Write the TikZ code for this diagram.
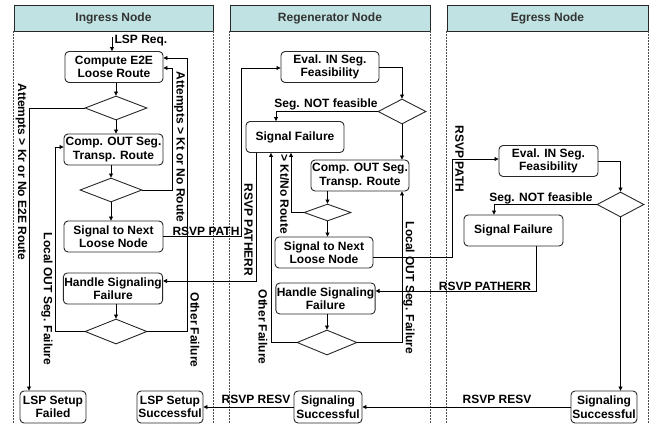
\documentclass[tikz,border=0pt]{standalone}
\usepackage{fontspec}
\setmainfont{Liberation Sans}
\usetikzlibrary{arrows.meta,shapes.geometric}
\definecolor{hdrfill}{RGB}{192,226,226}
\definecolor{edge}{RGB}{40,40,40}
\begin{document}
\begin{tikzpicture}[x=1pt,y=-1pt,
  txt/.style={font=\bfseries\fontsize{12}{13.5}\selectfont},
  box/.style={txt,draw=edge,line width=0.9pt,rounded corners=4pt,align=center,inner sep=1pt,minimum width=98pt,minimum height=31pt},
  small/.style={box,minimum width=66pt,minimum height=32pt},
  dia/.style={draw=edge,line width=0.9pt,shape=diamond,inner sep=0pt},
  lbl/.style={txt,inner sep=0pt},
  vl/.style={lbl,rotate=-90},
  arr/.style={draw=black,line width=0.8pt,-{Triangle[length=4pt,width=4pt]}},
  hdr/.style={draw=edge,line width=0.8pt,fill=hdrfill,minimum height=26pt,inner sep=0pt,font=\bfseries\fontsize{12}{13.5}\selectfont,text=black!80},
  lane/.style={draw=black!70,line width=0.6pt,dash pattern=on 1.5pt off 1.5pt}]
\useasboundingbox (0,0) rectangle (654,424);
\coordinate (bot) at (0,424);
% headers and lanes
\node[hdr,minimum width=199pt] (h1) at (113.5,18) {Ingress Node};
\node[hdr,minimum width=200pt] (h2) at (330,18) {Regenerator Node};
\node[hdr,minimum width=201pt] (h3) at (547.5,18) {Egress Node};
\foreach \h in {h1,h2,h3}{
  \draw[lane] (\h.south west) -- (\h.south west |- bot);
  \draw[lane] (\h.south east) -- (\h.south east |- bot);
}
% ingress nodes
\node[box] (e2e) at (114,67) {Compute E2E\\Loose Route};
\node[dia,minimum width=62pt,minimum height=24pt] (d1) at (116,108) {};
\node[box,minimum width=99pt] (out) at (113.5,149.5) {Comp. OUT Seg.\\Transp. Route};
\node[dia,minimum width=62pt,minimum height=24pt] (d2) at (111,190) {};
\node[box,minimum width=99pt] (sig) at (113.5,236.5) {Signal to Next\\Loose Node};
\node[box,minimum width=99pt] (hsf) at (113,288.5) {Handle Signaling\\Failure};
\node[dia,minimum width=62pt,minimum height=25pt] (d3) at (116,331.5) {};
\node[small] (fail) at (53,407) {LSP Setup\\Failed};
\node[small] (succ) at (170,407) {LSP Setup\\Successful};
% regenerator nodes
\node[box] (reval) at (330,67) {Eval. IN Seg.\\Feasibility};
\node[dia,minimum width=48pt,minimum height=25pt] (rd1) at (402,111.5) {};
\node[box] (rsf) at (295,137) {Signal Failure};
\node[box] (rout) at (360,175.5) {Comp. OUT Seg.\\Transp. Route};
\node[dia,minimum width=47pt,minimum height=17pt] (rd2) at (327.5,212.5) {};
\node[box] (rsig) at (324,252.5) {Signal to Next\\Loose Node};
\node[box,minimum width=99pt] (rhsf) at (325.5,298.5) {Handle Signaling\\Failure};
\node[dia,minimum width=60pt,minimum height=25pt] (rd3) at (327,342.5) {};
\node[small,minimum width=68pt] (rss) at (328,407) {Signaling\\Successful};
% egress nodes
\node[box,minimum width=99pt] (eeval) at (548.5,161) {Eval. IN Seg.\\Feasibility};
\node[dia,minimum width=47pt,minimum height=25pt] (ed1) at (620.5,204.5) {};
\node[box,minimum width=99pt] (esf) at (513.5,230.5) {Signal Failure};
\node[small] (ess) at (604,407) {Signaling\\Successful};
% bend coordinates
\coordinate (req) at (112,37);
\coordinate (k1) at (29,108);
\coordinate (k2) at (172,190);
\coordinate (k3) at (172,68);
\coordinate (k4) at (187,331.5);
\coordinate (k5) at (187,58);
\coordinate (k6) at (55,331.5);
\coordinate (k7) at (55,147);
\coordinate (k8) at (241,236.5);
\coordinate (k9) at (241,68);
\coordinate (k10) at (402,67);
\coordinate (k11) at (276,111.5);
\coordinate (k12) at (291,212.5);
\coordinate (k13) at (452,257);
\coordinate (k14) at (452,159);
\coordinate (k15) at (256,281);
\coordinate (k16) at (271,342.5);
\coordinate (k17) at (402,342.5);
\coordinate (k18) at (620.5,161);
\coordinate (k19) at (494,204.5);
\coordinate (k20) at (536,291);
% ingress connectors
\draw[arr] (req) -- (req |- e2e.north);
\draw[arr] (e2e.south -| d1) -- (d1.north);
\draw[arr] (d1.south) -- (out.north -| d1);
\draw[arr] (d1.west) -- (k1) -- (k1 |- fail.north);
\draw[arr] (out.south -| d2) -- (d2.north);
\draw[arr] (d2.south) -- (d2.south |- sig.north);
\draw[arr] (d2.east) -- (k2) -- (k3) -- (k3 -| e2e.east);
\draw[arr] (hsf.south -| d3) -- (d3.north);
\draw[arr] (d3.east) -- (k4) -- (k5) -- (k5 -| e2e.east);
\draw[arr] (d3.west) -- (k6) -- (k7) -- (k7 -| out.west);
\draw[arr] (sig.east) -- (k8) -- (k9) -- (k9 -| reval.west);
% regenerator connectors
\draw[arr] (reval.east) -- (k10) -- (rd1.north);
\draw[arr] (rd1.west) -- (k11) -- (k11 |- rsf.north);
\draw[arr] (rd1.south) -- (rd1.south |- rout.north);
\draw[arr] (rout.south -| rd2) -- (rd2.north);
\draw[arr] (rd2.west) -- (k12) -- (k12 |- rsf.south);
\draw[arr] (rd2.south) -- (rd2.south |- rsig.north);
\draw[arr] (rsig.east |- k13) -- (k13) -- (k14) -- (k14 -| eeval.west);
\draw[arr] (k15 |- rsf.south) -- (k15) -- (k15 -| hsf.east);
\draw[arr] (rhsf.south -| rd3) -- (rd3.north);
\draw[arr] (rd3.west) -- (k16) -- (k16 |- rsf.south);
\draw[arr] (rd3.east) -- (k17) -- (k17 |- rout.south);
\draw[arr] (rss.west) -- (rss.west -| succ.east);
% egress connectors
\draw[arr] (eeval.east) -- (k18) -- (ed1.north);
\draw[arr] (ed1.west) -- (k19) -- (k19 |- esf.north);
\draw[arr] (ed1.south) -- (ed1.south |- ess.north);
\draw[arr] (k20 |- esf.south) -- (k20) -- (k20 -| rhsf.east);
\draw[arr] (ess.west) -- (ess.west -| rss.east);
% labels
\node[lbl] (lreq) at (141,41) {LSP Req.};
\node[vl] (l1) at (21,172) {Attempts > Kr or No E2E Route};
\node[vl] (l2) at (179.5,147) {Attempts > Kt or No Route};
\node[vl] (l3) at (47,299) {Local OUT Seg. Failure};
\node[vl] (l4) at (195,330) {Other Failure};
\node[lbl] (l5) at (206,231) {RSVP PATH};
\node[vl] (l6) at (248.5,230) {RSVP PATHERR};
\node[lbl] (l7) at (326,104) {Seg. NOT feasible};
\node[vl] (l8) at (284.5,194) {> Kt/No Route};
\node[vl] (l9) at (263,327) {Other Failure};
\node[vl] (l10) at (409,288) {Local OUT Seg. Failure};
\node[vl] (l11) at (459.5,159) {RSVP PATH};
\node[lbl] (l12) at (541,198) {Seg. NOT feasible};
\node[lbl] (l13) at (485,286) {RSVP PATHERR};
\node[lbl] (l14) at (497,399) {RSVP RESV};
\node[lbl] (l15) at (256,399) {RSVP RESV};
\end{tikzpicture}
\end{document}
